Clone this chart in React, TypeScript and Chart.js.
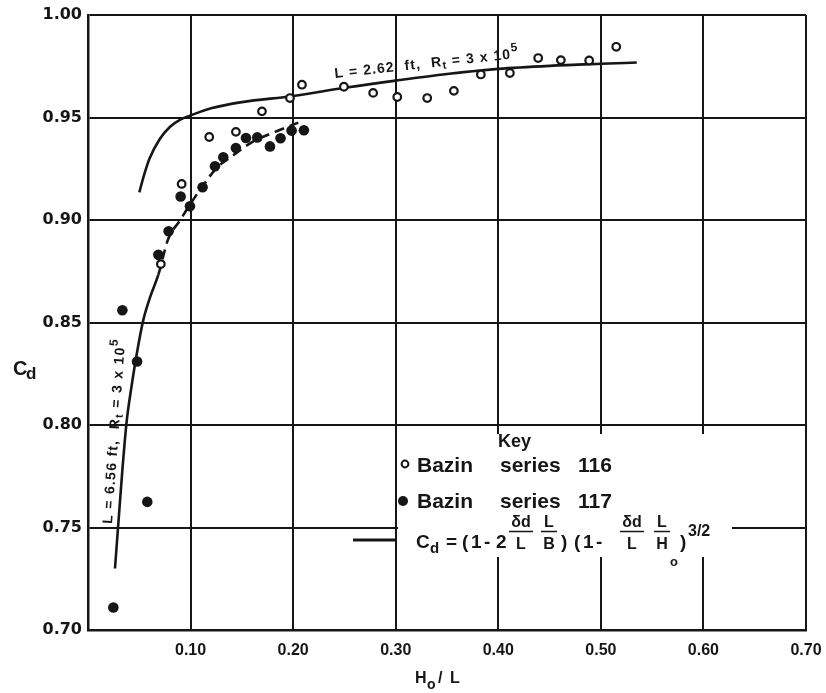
import React, { useEffect, useRef } from 'react';
import { Chart, registerables } from 'chart.js';

Chart.register(...registerables);

// ---- data ----
const series116X = [0.071, 0.0913, 0.1182, 0.1442, 0.1696, 0.1969, 0.2086, 0.2495, 0.278, 0.3015, 0.3307, 0.3567, 0.383, 0.4113, 0.4389, 0.461, 0.4886, 0.515];
const series116Y = [0.8785, 0.9176, 0.9405, 0.943, 0.953, 0.9595, 0.966, 0.965, 0.962, 0.96, 0.9595, 0.963, 0.971, 0.9717, 0.979, 0.978, 0.9778, 0.9845];

const series117X = [0.0247, 0.0335, 0.0478, 0.0578, 0.0686, 0.0786, 0.0903, 0.0994, 0.1117, 0.1238, 0.1319, 0.1442, 0.154, 0.165, 0.1774, 0.1877, 0.1985, 0.2105];
const series117Y = [0.711, 0.856, 0.831, 0.7625, 0.883, 0.8945, 0.9115, 0.9067, 0.916, 0.9262, 0.9306, 0.9351, 0.94, 0.9403, 0.9359, 0.9399, 0.9436, 0.9438];

const curve262X = [0.05, 0.055, 0.06, 0.07, 0.08, 0.09, 0.1, 0.12, 0.15, 0.2, 0.25, 0.3, 0.35, 0.4, 0.45, 0.5, 0.535];
const curve262Y = [0.9135, 0.9225, 0.93, 0.9395, 0.9455, 0.949, 0.951, 0.9545, 0.9575, 0.9605, 0.9645, 0.968, 0.9712, 0.9737, 0.9752, 0.9762, 0.9768];

const curve656X = [0.0263, 0.0295, 0.0335, 0.0377, 0.0425, 0.0474, 0.054, 0.061, 0.0686, 0.078, 0.09, 0.0994, 0.1125, 0.1254, 0.14, 0.16, 0.18, 0.205];
const curve656Y = [0.73, 0.7514, 0.778, 0.8018, 0.819, 0.8343, 0.8514, 0.863, 0.8733, 0.8905, 0.9, 0.9075, 0.917, 0.9254, 0.931, 0.938, 0.9425, 0.9475];

const X_MIN = 0;
const X_MAX = 0.7;
const X_STEP = 0.1;
const Y_MIN = 0.7;
const Y_MAX = 1.0;
const Y_STEP = 0.05;

const LEGEND_KEY = 'Key';
const LEGEND_116 = ['Bazin', 'series', '116'];
const LEGEND_117 = ['Bazin', 'series', '117'];

const INK = '#161616';
const SANS = '"Liberation Sans", Arial, sans-serif';
const F = (size: number, fam: string = SANS) => `bold ${size}px ${fam}`;

const zip = (xs: number[], ys: number[]) => xs.map((x, i) => ({ x, y: ys[i] }));

type Part = { t: string; size: number; dy: number };

function drawRun(ctx: CanvasRenderingContext2D, parts: Part[], x: number, y: number, angle: number, spacing: number) {
  ctx.save();
  ctx.translate(x, y);
  ctx.rotate(angle);
  (ctx as any).letterSpacing = spacing + 'px';
  let cx = 0;
  for (const p of parts) {
    ctx.font = F(p.size);
    ctx.fillText(p.t, cx, p.dy);
    cx += ctx.measureText(p.t).width;
  }
  ctx.restore();
}

function frac(ctx: CanvasRenderingContext2D, num: string, den: string, cx: number, halfW: number) {
  ctx.textAlign = 'center';
  ctx.font = F(16);
  ctx.fillText(num, cx, 527);
  ctx.fillText(den, cx, 549);
  ctx.beginPath();
  ctx.lineWidth = 1.5;
  ctx.moveTo(cx - halfW, 531.5);
  ctx.lineTo(cx + halfW, 531.5);
  ctx.stroke();
  ctx.textAlign = 'left';
}

const annotationPlugin = {
  id: 'annot',
  afterDatasetsDraw(chart: any) {
    const ctx: CanvasRenderingContext2D = chart.ctx;
    ctx.save();
    ctx.textBaseline = 'alphabetic';
    ctx.textAlign = 'left';

    // legend area (white, breaks grid lines)
    ctx.fillStyle = '#fff';
    ctx.fillRect(398, 434, 334, 123);

    ctx.fillStyle = INK;
    ctx.strokeStyle = INK;
    ctx.font = F(18);
    ctx.fillText(LEGEND_KEY, 498, 447);

    // row 1: open circle
    ctx.lineWidth = 2;
    ctx.beginPath();
    ctx.arc(405, 464, 3.4, 0, Math.PI * 2);
    ctx.fillStyle = '#fff';
    ctx.fill();
    ctx.stroke();
    ctx.fillStyle = INK;
    ctx.font = F(21);
    ctx.fillText(LEGEND_116[0], 417, 472);
    ctx.fillText(LEGEND_116[1], 500, 472);
    ctx.fillText(LEGEND_116[2], 578, 472);

    // row 2: filled circle
    ctx.beginPath();
    ctx.arc(403, 501, 5, 0, Math.PI * 2);
    ctx.fill();
    ctx.fillText(LEGEND_117[0], 417, 508);
    ctx.fillText(LEGEND_117[1], 500, 508);
    ctx.fillText(LEGEND_117[2], 578, 508);

    // row 3: line sample + formula
    ctx.lineWidth = 3;
    ctx.beginPath();
    ctx.moveTo(353, 540);
    ctx.lineTo(396, 540);
    ctx.stroke();

    ctx.font = F(19);
    ctx.fillText('C', 416, 548);
    ctx.font = F(15);
    ctx.fillText('d', 430, 553);
    ctx.font = F(19);
    ctx.fillText('=', 446, 548);
    ctx.fillText('(', 462, 548);
    ctx.fillText('1', 471, 548);
    ctx.fillText('-', 484, 548);
    ctx.fillText('2', 496, 548);
    frac(ctx, 'δd', 'L', 521, 12);
    frac(ctx, 'L', 'B', 549, 8);
    ctx.font = F(19);
    ctx.fillText(')', 561, 548);
    ctx.fillText('(', 574, 548);
    ctx.fillText('1', 583, 548);
    ctx.fillText('-', 596, 548);
    frac(ctx, 'δd', 'L', 632, 12);
    frac(ctx, 'L', 'H', 662, 8);
    ctx.font = F(13);
    ctx.fillText('o', 670, 566);
    ctx.font = F(19);
    ctx.fillText(')', 680, 548);
    ctx.font = F(16);
    ctx.fillText('3/2', 688, 536);

    // curve labels
    drawRun(ctx, [
      { t: 'L = 2.62  ft,  R', size: 14, dy: 0 },
      { t: 't', size: 11, dy: 3 },
      { t: ' = 3 x 10', size: 14, dy: 0 },
      { t: '5', size: 12, dy: -7 },
    ], 335, 78, -0.11, 1.1);

    drawRun(ctx, [
      { t: 'L = 6.56 ft,  R', size: 14, dy: 0 },
      { t: 't', size: 11, dy: 3 },
      { t: ' = 3 x 10', size: 14, dy: 0 },
      { t: '5', size: 12, dy: -7 },
    ], 112, 524, -1.5, 1.3);

    // axis titles
    ctx.font = F(20);
    ctx.fillText('C', 13, 375);
    ctx.font = F(17);
    ctx.fillText('d', 26, 379);

    ctx.font = F(16);
    ctx.fillText('H', 415, 683);
    ctx.font = F(14);
    ctx.fillText('o', 427, 689);
    ctx.font = F(16);
    ctx.fillText('/', 438, 683);
    ctx.fillText('L', 450, 683);

    ctx.restore();
  },
};

export default function App() {
  const ref = useRef<HTMLCanvasElement | null>(null);

  useEffect(() => {
    document.body.style.margin = '0';
    const canvas = ref.current;
    if (!canvas) return;

    const chart = new Chart(canvas, {
      type: 'scatter',
      data: {
        datasets: [
          {
            label: 'Bazin series 116',
            data: zip(series116X, series116Y),
            pointRadius: 3.8,
            pointBorderWidth: 2.2,
            pointBackgroundColor: '#fff',
            pointBorderColor: INK,
            showLine: false,
          },
          {
            label: 'Bazin series 117',
            data: zip(series117X, series117Y),
            pointRadius: 5.3,
            pointBorderWidth: 0,
            pointBackgroundColor: INK,
            pointBorderColor: INK,
            showLine: false,
          },
          {
            label: 'L = 2.62 ft',
            data: zip(curve262X, curve262Y),
            showLine: true,
            pointRadius: 0,
            borderColor: INK,
            borderWidth: 2.6,
            cubicInterpolationMode: 'monotone',
            fill: false,
          },
          {
            label: 'L = 6.56 ft',
            data: zip(curve656X, curve656Y),
            showLine: true,
            pointRadius: 0,
            borderColor: INK,
            borderWidth: 2.6,
            cubicInterpolationMode: 'monotone',
            fill: false,
            segment: {
              borderDash: (c: any) => (c.p0.parsed.x >= 0.068 ? [10, 6] : undefined),
            },
          },
        ],
      } as any,
      options: {
        responsive: false,
        animation: false,
        devicePixelRatio: 1,
        layout: { padding: { left: 0, right: 0, top: 15, bottom: 0 } },
        plugins: {
          legend: { display: false },
          tooltip: { enabled: false },
        },
        scales: {
          x: {
            type: 'linear',
            min: X_MIN,
            max: X_MAX,
            ticks: {
              stepSize: X_STEP,
              autoSkip: false,
              maxRotation: 0,
              padding: 11,
              color: INK,
              font: { family: SANS, size: 16, weight: 'bold' },
              callback: (v: any) => (Math.abs(v) < 1e-9 ? '' : Number(v).toFixed(2)),
            },
            grid: { color: INK, lineWidth: 2, drawTicks: false },
            border: { color: INK, width: 2.5 },
            afterFit: (s: any) => {
              s.height = 63;
              s.paddingRight = 20;
              s.paddingLeft = 0;
            },
          },
          y: {
            type: 'linear',
            min: Y_MIN,
            max: Y_MAX,
            ticks: {
              stepSize: Y_STEP,
              padding: 6,
              color: INK,
              font: { family: '"DejaVu Sans", sans-serif', size: 16, weight: 'bold' },
              callback: (v: any) => Number(v).toFixed(2),
            },
            grid: { color: INK, lineWidth: 2, drawTicks: false },
            border: { color: INK, width: 2.5 },
            afterFit: (s: any) => {
              s.width = 88;
              s.paddingTop = 0;
              s.paddingBottom = 0;
            },
          },
        },
      } as any,
      plugins: [annotationPlugin],
    });

    return () => chart.destroy();
  }, []);

  return (
    <div style={{ width: 826, height: 693, background: '#fff' }}>
      <canvas ref={ref} width={826} height={693} style={{ display: 'block' }} />
    </div>
  );
}
